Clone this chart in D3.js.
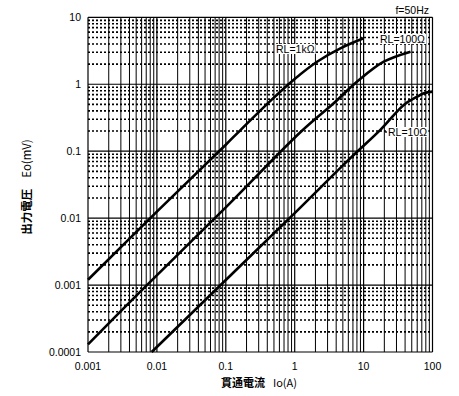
<!DOCTYPE html>
<html><head><meta charset="utf-8">
<script src="https://cdn.jsdelivr.net/npm/d3@7"></script>
<style>body{margin:0;background:#fff}svg{display:block}</style>
</head><body>
<svg id="c" width="459" height="396"></svg>
<script>
const xTicks = [0.001, 0.01, 0.1, 1, 10, 100];
const xTickLabels = ["0.001", "0.01", "0.1", "1", "10", "100"];
const yTicks = [0.0001, 0.001, 0.01, 0.1, 1, 10];
const yTickLabels = ["0.0001", "0.001", "0.01", "0.1", "1", "10"];

const seriesNames = ["RL=1kΩ", "RL=100Ω", "RL=10Ω"];
const rl1kI = [0.001, 0.01, 0.1, 0.162, 0.44, 0.96, 2.11, 4.6, 10];
const rl1kE = [0.0012, 0.0125, 0.125, 0.205, 0.56, 1.16, 2.17, 3.44, 4.86];
const rl100I = [0.001, 0.0059, 0.1, 1.23, 3.68, 8.0, 19.6, 48];
const rl100E = [0.00013, 0.00082, 0.0145, 0.195, 0.52, 1.09, 2.17, 3.07];
const rl10I = [0.0084, 0.1, 1, 6.43, 17.5, 38.3, 60, 75, 100];
const rl10E = [0.0001, 0.00119, 0.0119, 0.0787, 0.208, 0.49, 0.653, 0.734, 0.776];

const svg = d3.select("#c");
const L = 88, R = 432.5, T = 17.3, B = 352;
const x = d3.scaleLog().domain([0.001, 100]).range([L, R]);
const y = d3.scaleLog().domain([0.0001, 10]).range([B, T]);

const g = svg.append("g");
const decadesX = d3.range(-3, 2);
const decadesY = d3.range(-4, 1);
const minorX = [], minorY = [];
decadesX.forEach(d => { for (let m = 2; m <= 9; m++) minorX.push(m * Math.pow(10, d)); });
decadesY.forEach(d => { for (let m = 2; m <= 9; m++) minorY.push(m * Math.pow(10, d)); });

g.selectAll(".hm").data(minorY).join("line")
  .attr("x1", L).attr("x2", R)
  .attr("y1", d => y(d)).attr("y2", d => y(d))
  .attr("stroke", "#000").attr("stroke-width", 1.6).attr("stroke-dasharray", "2,2");
g.selectAll(".vm").data(minorX).join("line")
  .attr("y1", T).attr("y2", B)
  .attr("x1", d => x(d)).attr("x2", d => x(d))
  .attr("stroke", "#000").attr("stroke-width", 1);
g.selectAll(".hM").data(yTicks).join("line")
  .attr("x1", L).attr("x2", R)
  .attr("y1", d => y(d)).attr("y2", d => y(d))
  .attr("stroke", "#000").attr("stroke-width", 1.2);
g.selectAll(".vM").data(xTicks).join("line")
  .attr("y1", T).attr("y2", B)
  .attr("x1", d => x(d)).attr("x2", d => x(d))
  .attr("stroke", "#000").attr("stroke-width", 1.2);

const line = d3.line().x(d => x(d[0])).y(d => y(d[1])).curve(d3.curveCatmullRom.alpha(0.5));
const series = [d3.zip(rl1kI, rl1kE), d3.zip(rl100I, rl100E), d3.zip(rl10I, rl10E)];
svg.append("g").selectAll("path").data(series).join("path")
  .attr("d", line).attr("fill", "none").attr("stroke", "#000").attr("stroke-width", 2.6);

const font = "Liberation Sans, Arial, sans-serif";
svg.append("g").selectAll("text").data(xTicks).join("text")
  .attr("x", d => x(d)).attr("y", 370).attr("text-anchor", "middle")
  .attr("font-family", font).attr("font-size", 10.5).attr("fill", "#000")
  .text((d, i) => xTickLabels[i]);
svg.append("g").selectAll("text").data(yTicks).join("text")
  .attr("x", 81).attr("y", d => y(d) + 4).attr("text-anchor", "end")
  .attr("font-family", font).attr("font-size", 10.5).attr("fill", "#000")
  .text((d, i) => yTickLabels[i]);

const labels = [
  {t: seriesNames[0], x: 276, y: 53},
  {t: seriesNames[1], x: 380, y: 43},
  {t: seriesNames[2], x: 388, y: 136}
];
const lg = svg.append("g");
labels.forEach(l => {
  const t = lg.append("text").attr("x", l.x).attr("y", l.y)
    .attr("font-family", font).attr("font-size", 10.5).attr("fill", "#000").text(l.t);
  const bb = t.node().getBBox();
  lg.insert("rect", () => t.node()).attr("x", bb.x - 1).attr("y", bb.y + 1).attr("width", bb.width + 2)
    .attr("height", bb.height - 2).attr("fill", "#fff");
});
svg.append("circle").attr("cx", 386).attr("cy", 132).attr("r", 0.9).attr("fill", "#000");
svg.append("text").attr("x", 429).attr("y", 14).attr("text-anchor", "end")
  .attr("font-family", font).attr("font-size", 10.5).attr("fill", "#000").text("f=50Hz");

svg.append("text").attr("x", 259).attr("y", 387).attr("text-anchor", "middle")
  .attr("font-family", "Noto Sans CJK JP, sans-serif").attr("font-size", 11).attr("fill", "#000")
  .html('<tspan font-weight="bold">貫通電流</tspan><tspan dx="8">Io(A)</tspan>');
svg.append("text").attr("transform", "translate(31,187) rotate(-90)").attr("text-anchor", "middle")
  .attr("font-family", "Noto Sans CJK JP, sans-serif").attr("font-size", 11.5).attr("fill", "#000")
  .html('<tspan font-weight="bold">出力電圧</tspan><tspan dx="11">Eo(mV)</tspan>');
</script>
</body></html>
